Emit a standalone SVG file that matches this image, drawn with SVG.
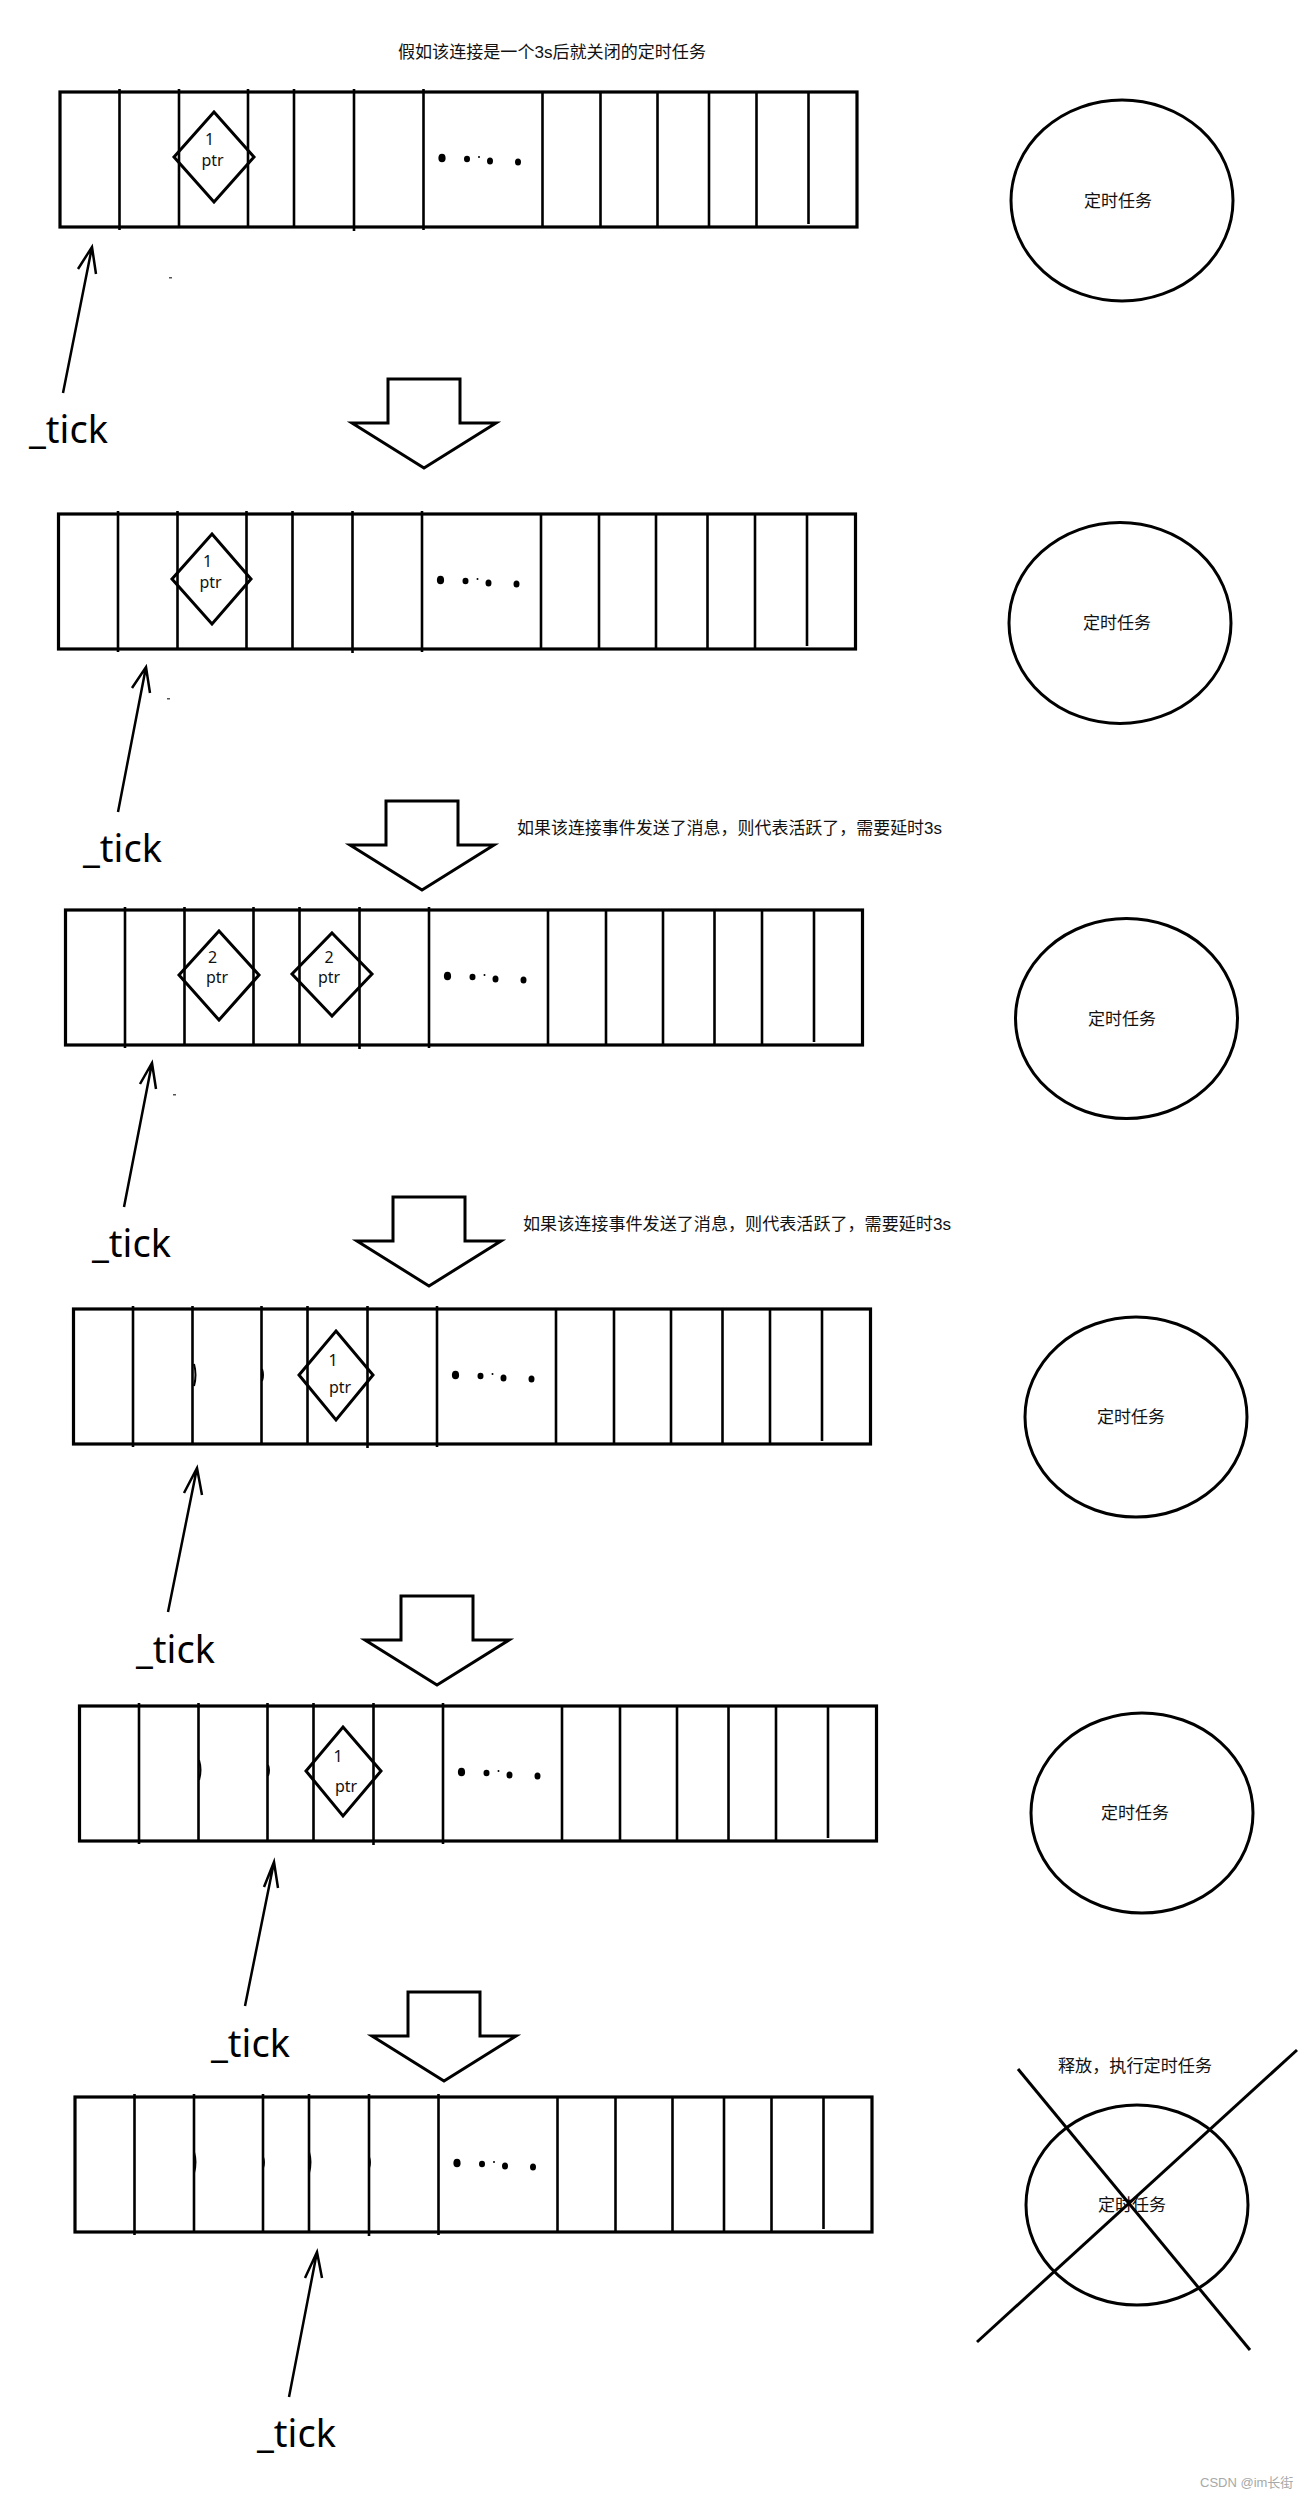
<svg xmlns="http://www.w3.org/2000/svg" xmlns:xlink="http://www.w3.org/1999/xlink" width="1308" height="2497" viewBox="0 0 1308 2497">
<style>
.bg{fill:#fff}
.ring{fill:none;stroke:#000;stroke-width:3.2}
.dv{stroke:#000;stroke-width:2.6;fill:none}
.dot{fill:#000}
.dia{fill:none;stroke:#000;stroke-width:3;stroke-linejoin:miter}
.big{fill:none;stroke:#000;stroke-width:3;stroke-linejoin:miter}
.ptrarrow{fill:none;stroke:#000;stroke-width:2.5}
.timer{fill:none;stroke:#000;stroke-width:3}
.cross{stroke:#000;stroke-width:3}
.mark{fill:none;stroke:#000;stroke-width:2}
.speck{fill:#555}
.tick{font-family:"Noto Sans","Liberation Sans",sans-serif;font-size:38px;fill:#000}
.num{font-family:"Noto Sans","Liberation Sans",sans-serif;font-size:16px;fill:#111;text-anchor:middle}
.cn{font-family:"Liberation Sans","Noto Sans CJK SC",sans-serif;font-size:17px;fill:#111}
.cnc{font-family:"Liberation Sans","Noto Sans CJK SC",sans-serif;font-size:17px;fill:#111;text-anchor:middle}
.wm{font-family:"Liberation Sans","Noto Sans CJK SC",sans-serif;font-size:13px;fill:#a8a8a8}
</style>
<defs>
<g id="ring">
<rect class="ring" x="0" y="0" width="797" height="135"/>
<line class="dv" x1="59.5" y1="-3" x2="59.5" y2="138"/>
<line class="dv" x1="119" y1="-3" x2="119" y2="135"/>
<line class="dv" x1="188" y1="-3" x2="188" y2="135"/>
<line class="dv" x1="234" y1="-3" x2="234" y2="135"/>
<line class="dv" x1="294" y1="-3" x2="294" y2="139"/>
<line class="dv" x1="363.5" y1="-3" x2="363.5" y2="138"/>
<line class="dv" x1="482.5" y1="0" x2="482.5" y2="135"/>
<line class="dv" x1="540.5" y1="0" x2="540.5" y2="135"/>
<line class="dv" x1="597.5" y1="0" x2="597.5" y2="135"/>
<line class="dv" x1="649" y1="0" x2="649" y2="135"/>
<line class="dv" x1="696.5" y1="0" x2="696.5" y2="135"/>
<line class="dv" x1="748.5" y1="0" x2="748.5" y2="132"/>
<ellipse class="dot" cx="382" cy="66" rx="3.6" ry="4.3"/>
<ellipse class="dot" cx="407" cy="67" rx="3" ry="3.2"/>
<ellipse class="dot" cx="419" cy="65" rx="1" ry="1"/>
<ellipse class="dot" cx="430" cy="69" rx="3" ry="3.5"/>
<ellipse class="dot" cx="458" cy="70" rx="3" ry="3.5"/>
</g>
</defs>
<rect class="bg" x="0" y="0" width="1308" height="2497"/>

<text class="cn" x="398" y="58" textLength="308" lengthAdjust="spacingAndGlyphs">假如该连接是一个3s后就关闭的定时任务</text>

<g id="step1">
<use xlink:href="#ring" x="60" y="92"/>
<polygon class="dia" points="214,112 254,157 214,202 174,157"/>
<text class="num" x="209.5" y="145">1</text>
<text class="num" x="212.5" y="166">ptr</text>
<rect class="speck" x="169" y="277" width="3" height="1.5"/>
</g>

<g id="step2">
<use xlink:href="#ring" x="58.5" y="514"/>
<polygon class="dia" points="212,534 251,579 212,624 172,579"/>
<text class="num" x="207.5" y="567">1</text>
<text class="num" x="210.5" y="588">ptr</text>
<rect class="speck" x="167" y="698" width="3" height="1.5"/>
</g>

<g id="step3">
<use xlink:href="#ring" x="65.5" y="910"/>
<polygon class="dia" points="219,931 259,975 219,1020 179,975"/>
<text class="num" x="212.5" y="963">2</text>
<text class="num" x="217" y="983">ptr</text>
<polygon class="dia" points="332,933 372,974 332,1016 292,974"/>
<text class="num" x="329" y="963">2</text>
<text class="num" x="329" y="983">ptr</text>
<rect class="speck" x="173" y="1094" width="3" height="1.5"/>
</g>

<g id="step4">
<use xlink:href="#ring" x="73.5" y="1309"/>
<path class="mark" d="M194,1364 Q197,1375 194,1386"/>
<path class="mark" d="M262,1369 Q264,1375 262,1381"/>
<polygon class="dia" points="336,1331 373,1375 336,1420 299,1375"/>
<text class="num" x="333" y="1366">1</text>
<text class="num" x="340" y="1393">ptr</text>
</g>

<g id="step5">
<use xlink:href="#ring" x="79.5" y="1706"/>
<path class="mark" d="M199,1760 Q202,1770 199,1780"/>
<path class="mark" d="M268,1765 Q270,1770 268,1776"/>
<polygon class="dia" points="343,1727 381,1771 343,1816 306,1771"/>
<text class="num" x="338" y="1762">1</text>
<text class="num" x="346" y="1792">ptr</text>
</g>

<g id="step6">
<use xlink:href="#ring" x="75" y="2097"/>
<path class="mark" d="M194,2152 Q197,2162 194,2173"/>
<path class="mark" d="M263,2157 Q265,2162 263,2168"/>
<path class="mark" d="M309,2152 Q312,2162 309,2173"/>
<path class="mark" d="M369,2157 Q371,2162 369,2168"/>
</g>

<g id="timer1">
<ellipse class="timer" cx="1122" cy="200.5" rx="111" ry="100.5"/>
<text class="cnc" x="1118" y="206.5">定时任务</text>
</g>
<g id="timer2">
<ellipse class="timer" cx="1120" cy="623" rx="111" ry="100.5"/>
<text class="cnc" x="1117" y="629">定时任务</text>
</g>
<g id="timer3">
<ellipse class="timer" cx="1126.5" cy="1018.5" rx="111" ry="100"/>
<text class="cnc" x="1122" y="1024.5">定时任务</text>
</g>
<g id="timer4">
<ellipse class="timer" cx="1136" cy="1417" rx="111" ry="100"/>
<text class="cnc" x="1131" y="1423">定时任务</text>
</g>
<g id="timer5">
<ellipse class="timer" cx="1142" cy="1813" rx="111" ry="100"/>
<text class="cnc" x="1135" y="1819">定时任务</text>
</g>
<g id="timer6">
<ellipse class="timer" cx="1137" cy="2205" rx="111" ry="100"/>
<text class="cnc" x="1132" y="2211">定时任务</text>
<text class="cn" x="1058" y="2072" textLength="154" lengthAdjust="spacingAndGlyphs">释放，执行定时任务</text>
<line class="cross" x1="1018" y1="2069" x2="1250" y2="2350"/>
<line class="cross" x1="1297" y1="2050" x2="977" y2="2342"/>
</g>

<g id="connectors">
<path class="ptrarrow" d="M63,393 L92,247 M78,269 L92,247 L96,274"/>
<path class="ptrarrow" d="M118,812 L146,667 M132,688 L146,667 L150,693"/>
<path class="ptrarrow" d="M124,1207 L152,1063 M140,1084 L152,1063 L156,1089"/>
<path class="ptrarrow" d="M168,1612 L197,1468 M184,1493 L197,1468 L202,1495"/>
<path class="ptrarrow" d="M245,2006 L274,1862 M264,1887 L274,1862 L278,1888"/>
<path class="ptrarrow" d="M289,2397 L317,2252 M305,2278 L317,2252 L322,2278"/>
<path class="big" d="M388,379 H460 V423 H496 L424,468 L352,423 H388 Z"/>
<path class="big" d="M386,801 H458 V845 H494 L422,890 L350,845 H386 Z"/>
<path class="big" d="M393,1197 H465 V1241 H501 L429,1286 L357,1241 H393 Z"/>
<path class="big" d="M401,1596 H473 V1640 H509 L437,1685 L365,1640 H401 Z"/>
<path class="big" d="M408,1992 H480 V2036 H516 L444,2081 L372,2036 H408 Z"/>
</g>

<g id="labels">
<text class="tick" x="29" y="443">_tick</text>
<text class="tick" x="83" y="862">_tick</text>
<text class="tick" x="92" y="1257">_tick</text>
<text class="tick" x="136" y="1663">_tick</text>
<text class="tick" x="211" y="2057">_tick</text>
<text class="tick" x="257" y="2447">_tick</text>
<text class="cn" x="517" y="834" textLength="425" lengthAdjust="spacingAndGlyphs">如果该连接事件发送了消息，则代表活跃了，需要延时3s</text>
<text class="cn" x="523" y="1230" textLength="428" lengthAdjust="spacingAndGlyphs">如果该连接事件发送了消息，则代表活跃了，需要延时3s</text>
<text class="wm" x="1200" y="2487">CSDN @im长街</text>
</g>
</svg>
